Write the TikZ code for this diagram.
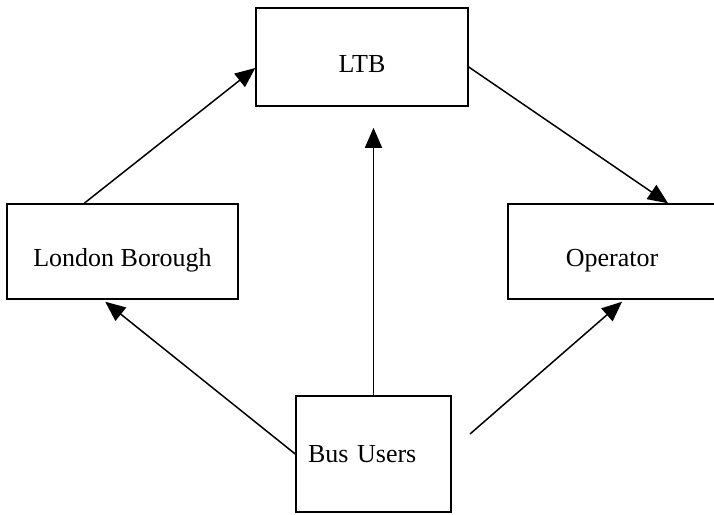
\documentclass[tikz,border=0pt]{standalone}
\usepackage{fontspec}
\setmainfont{Liberation Serif}
\usepackage{tikz}
\usetikzlibrary{shapes, arrows.meta}
\tikzstyle{block} = [rectangle, draw=black, line width=1.5pt, inner sep=0pt, font=\fontsize{26}{30}\selectfont]
\tikzstyle{lowtext} = [text height=30pt, text depth=0pt]
\tikzstyle{arrow} = [line width=1.5pt, -{Triangle[length=20pt, width=17pt]}]

\begin{document}
\begin{tikzpicture}[x=1pt, y=-1pt]
	\useasboundingbox (0,0) rectangle (714,514);
	% blocks
	\node [block, lowtext, minimum width=212pt, minimum height=98pt] (ltb) at (362,57) {LTB};
	\node [block, lowtext, minimum width=231pt, minimum height=95pt] (borough) at (122.5,251.5) {London Borough};
	\node [block, lowtext, minimum width=208pt, minimum height=95pt] (operator) at (612,251.5) {Operator};
	\node [block, minimum height=116pt, text width=131pt, inner xsep=12pt, align=left] (users) at (373.5,454) {Bus Users};
	\coordinate (free) at (470,434);

	% arrows
	\draw [arrow] ([xshift=78pt]borough.north west) -- ([yshift=-11pt]ltb.west);
	\draw [arrow] ([yshift=-10pt]ltb.east) -- ([xshift=56pt]operator.north);
	\draw [arrow] (users.north) -- ([yshift=-21pt]users.north |- ltb.south);
	\draw [arrow] (users.west) -- ([xshift=99pt, yshift=-2pt]borough.south west);
	\draw [arrow] (free) -- ([xshift=10pt, yshift=-2pt]operator.south);
\end{tikzpicture}
\end{document}
